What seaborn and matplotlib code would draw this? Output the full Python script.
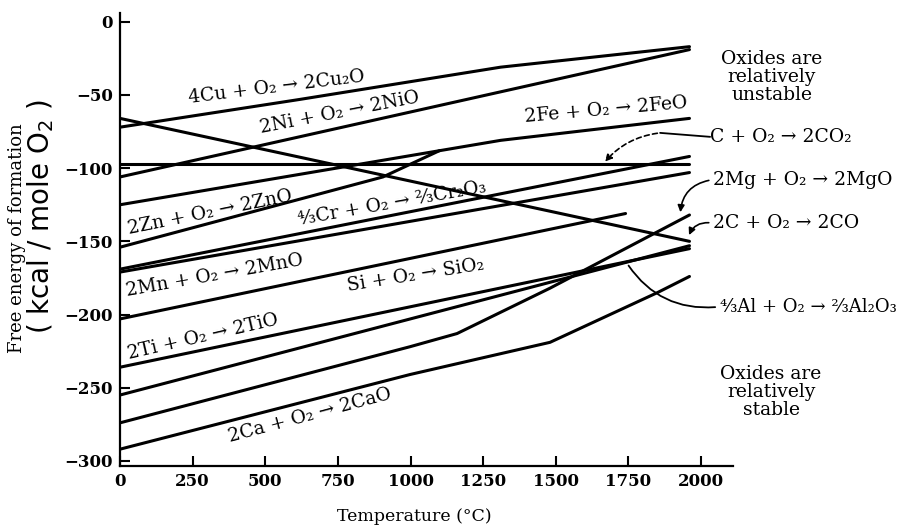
import numpy as np
import pandas as pd
import matplotlib
matplotlib.use("Agg")
import matplotlib.pyplot as plt
import seaborn as sns

# free energy of oxide formation
# temperature in deg C, free energy in kcal / mole O2
cu_T = [0, 620, 1310, 1960]
cu_G = [-72, -53, -31, -17]
ni_T = [0, 1960]
ni_G = [-106, -19]
fe_T = [0, 1310, 1960]
fe_G = [-125, -81, -66]
co2_T = [0, 1960]
co2_G = [-97, -97]
co_T = [0, 1960]
co_G = [-66, -150]
zn_T = [0, 905, 1100]
zn_G = [-154, -106, -88]
cr_T = [0, 1960]
cr_G = [-169, -92]
mn_T = [0, 1960]
mn_G = [-171, -103]
si_T = [0, 1740]
si_G = [-203, -131]
ti_T = [0, 1960]
ti_G = [-236, -155]
al_T = [0, 1960]
al_G = [-255, -153]
mg_T = [0, 998, 1160, 1480, 1960]
mg_G = [-274, -222, -213, -182, -132]
ca_T = [0, 998, 1480, 1850, 1960]
ca_G = [-292, -241, -219, -185, -174]

x_ticks = [0, 250, 500, 750, 1000, 1250, 1500, 1750, 2000]
y_ticks = [0, -50, -100, -150, -200, -250, -300]

series = {
    'Cu': (cu_T, cu_G), 'Ni': (ni_T, ni_G), 'Fe': (fe_T, fe_G),
    'CO2': (co2_T, co2_G), 'CO': (co_T, co_G), 'Zn': (zn_T, zn_G),
    'Cr': (cr_T, cr_G), 'Mn': (mn_T, mn_G), 'Si': (si_T, si_G),
    'Ti': (ti_T, ti_G), 'Al': (al_T, al_G), 'Mg': (mg_T, mg_G),
    'Ca': (ca_T, ca_G),
}
df = pd.concat([pd.DataFrame({'reaction': k, 'T': t, 'G': g})
                for k, (t, g) in series.items()], ignore_index=True)

sns.set_style("ticks")
plt.rcParams['font.family'] = ['DejaVu Serif', 'DejaVu Sans']
plt.rcParams['mathtext.fontset'] = 'dejavusans'
# plain black print look
for key in ['text.color', 'axes.labelcolor', 'xtick.color', 'ytick.color',
            'axes.edgecolor']:
    plt.rcParams[key] = 'black'

fig = plt.figure(figsize=(9.06, 5.31), dpi=100)
ax = fig.add_axes([0.1325, 0.1224, 0.6766, 0.8531])

sns.lineplot(data=df, x='T', y='G', units='reaction', estimator=None,
             sort=False, color='black', lw=2.2, legend=False, ax=ax)

ax.set_xlim(0, 2110)
ax.set_ylim(-303.5, 6)
ax.set_xticks(x_ticks)
ax.set_yticks(y_ticks)
ax.tick_params(direction='in', length=7, width=1.5, labelsize=12, pad=5,
               colors='black')
for lab in ax.get_xticklabels() + ax.get_yticklabels():
    lab.set_fontweight('bold')
sns.despine(ax=ax)
for s in ['left', 'bottom']:
    ax.spines[s].set_linewidth(1.6)
    ax.spines[s].set_color('black')
ax.set_xlabel('')
ax.set_ylabel('')

# axis titles
fig.text(0.457, 0.027, 'Temperature (°C)', ha='center', va='center', fontsize=12.5)
fig.text(0.019, 0.552, 'Free energy of formation', rotation=90,
         ha='center', va='center', fontsize=13)
fig.text(0.045, 0.593, r'( kcal / mole O$_2$ )', rotation=90,
         ha='center', va='center', fontsize=20, family='DejaVu Sans')

# labels along the lines
fs = 13.5
line_labels = [
    (540, -45, 7, '4Cu + O₂ → 2Cu₂O'),
    (757, -62, 11, '2Ni + O₂ → 2NiO'),
    (1673, -60, 5, '2Fe + O₂ → 2FeO'),
    (310, -130, 11.5, '2Zn + O₂ → 2ZnO'),
    (936, -124, 10, '⁴⁄₃Cr + O₂ → ²⁄₃Cr₂O₃'),
    (327, -173, 10, '2Mn + O₂ → 2MnO'),
    (1016, -173, 9, 'Si + O₂ → SiO₂'),
    (286, -215, 13, '2Ti + O₂ → 2TiO'),
    (654, -269, 15, '2Ca + O₂ → 2CaO'),
]
for x, y, r, s in line_labels:
    ax.text(x, y, s, rotation=r, rotation_mode='anchor', ha='center',
            va='center', fontsize=fs)

# labels on the right with leader lines
ax.text(2031, -78.6, 'C + O₂ → 2CO₂', ha='left', va='center', fontsize=fs)
ax.plot([2031, 1859], [-78.6, -75.9], color='black', lw=1.3, clip_on=False)
ax.annotate('', xy=(1663, -97), xytext=(1859, -75.9),
            arrowprops=dict(arrowstyle='-|>', color='black', lw=1.2,
                            linestyle=(0, (3, 2)),
                            connectionstyle='arc3,rad=0.2'),
            annotation_clip=False)

ax.text(2041, -108, '2Mg + O₂ → 2MgO', ha='left', va='center', fontsize=fs)
ax.annotate('', xy=(1928, -132), xytext=(2036, -108),
            arrowprops=dict(arrowstyle='-|>', color='black', lw=1.2,
                            connectionstyle='arc3,rad=0.4'),
            annotation_clip=False)

ax.text(2041, -137.4, '2C + O₂ → 2CO', ha='left', va='center', fontsize=fs)
ax.annotate('', xy=(1955, -147.5), xytext=(2036, -137.4),
            arrowprops=dict(arrowstyle='-|>', color='black', lw=1.2,
                            connectionstyle='arc3,rad=0.4'),
            annotation_clip=False)

ax.text(2065, -194.8, '⁴⁄₃Al + O₂ → ²⁄₃Al₂O₃', ha='left', va='center', fontsize=13)
ax.annotate('', xy=(1745, -165), xytext=(2058, -194.8),
            arrowprops=dict(arrowstyle='-', color='black', lw=1.3,
                            connectionstyle='arc3,rad=-0.3'),
            annotation_clip=False)

ax.text(2244, -37.6, 'Oxides are\nrelatively\nunstable', ha='center',
        va='center', fontsize=fs, linespacing=1.0)
ax.text(2241, -253, 'Oxides are\nrelatively\nstable', ha='center',
        va='center', fontsize=fs, linespacing=1.0)

fig.savefig('out.png', dpi=100)
